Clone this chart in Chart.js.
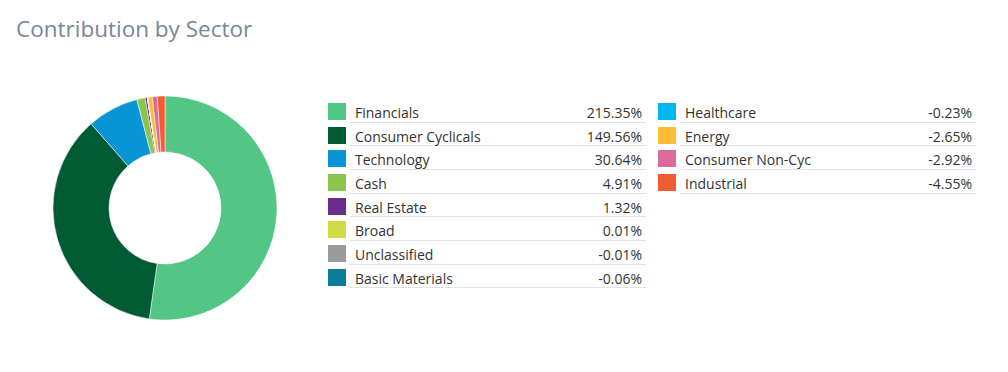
<!DOCTYPE html>
<html>
<head>
<meta charset="utf-8">
<script src="https://cdn.jsdelivr.net/npm/chart.js@4"></script>
<style>
  body { margin: 0; background: #fff; font-family: "Open Sans", sans-serif; }
  #title { position: absolute; left: 16px; top: 17px; font-size: 22.5px; line-height: 24px; color: #778898; font-weight: 500; }
  #chartBox { position: absolute; left: 35px; top: 78px; width: 260px; height: 260px; }
  .col { position: absolute; top: 99px; width: 296px; }
  .row { position: relative; height: 22.67px; border-bottom: 1px solid #e2e2e2; font-size: 14px; line-height: 20px; color: #333; }
  .row .sw { position: absolute; left: -22px; top: 4px; width: 18px; height: 17px; }
  .row .lb { position: absolute; left: 5px; top: 4px; }
  .row .vl { position: absolute; right: 4px; top: 4px; }
</style>
</head>
<body>
<div id="title">Contribution by Sector</div>
<div id="chartBox"><canvas id="chart"></canvas></div>
<div class="col" id="col1" style="left:350px"></div>
<div class="col" id="col2" style="left:680px"></div>
<script>
// sektor dan kontribusinya (persen)
const sectors = ['Financials', 'Consumer Cyclicals', 'Technology', 'Cash', 'Real Estate', 'Broad',
  'Unclassified', 'Basic Materials', 'Healthcare', 'Energy', 'Consumer Non-Cyc', 'Industrial'];
const contribution = [215.35, 149.56, 30.64, 4.91, 1.32, 0.01, -0.01, -0.06, -0.23, -2.65, -2.92, -4.55];
const sectorColors = ['#53c585', '#005b33', '#0994d5', '#8bc54f', '#6a2d8f', '#cfdc45',
  '#9a9a9a', '#0b7c99', '#00b8eb', '#fdbd38', '#d96c98', '#f25c33'];

const ctx = document.getElementById('chart').getContext('2d');

new Chart(ctx, {
  type: 'doughnut',
  data: {
    labels: sectors,
    datasets: [{
      data: contribution.map(v => Math.abs(v)),
      backgroundColor: sectorColors,
      borderColor: '#fff',
      borderWidth: 0.5,
      radius: 112,
      cutout: '50%'
    }]
  },
  options: {
    responsive: true,
    maintainAspectRatio: false,
    animation: false,
    plugins: {
      legend: { display: false },
      tooltip: { enabled: false }
    }
  }
});

// legend dibuat manual, dua kolom
sectors.forEach((name, i) => {
  const row = document.createElement('div');
  row.className = 'row';
  row.innerHTML = '<span class="sw" style="background:' + sectorColors[i] + '"></span>' +
    '<span class="lb">' + name + '</span>' +
    '<span class="vl">' + contribution[i].toFixed(2) + '%</span>';
  document.getElementById(i < 8 ? 'col1' : 'col2').appendChild(row);
});
</script>
</body>
</html>
